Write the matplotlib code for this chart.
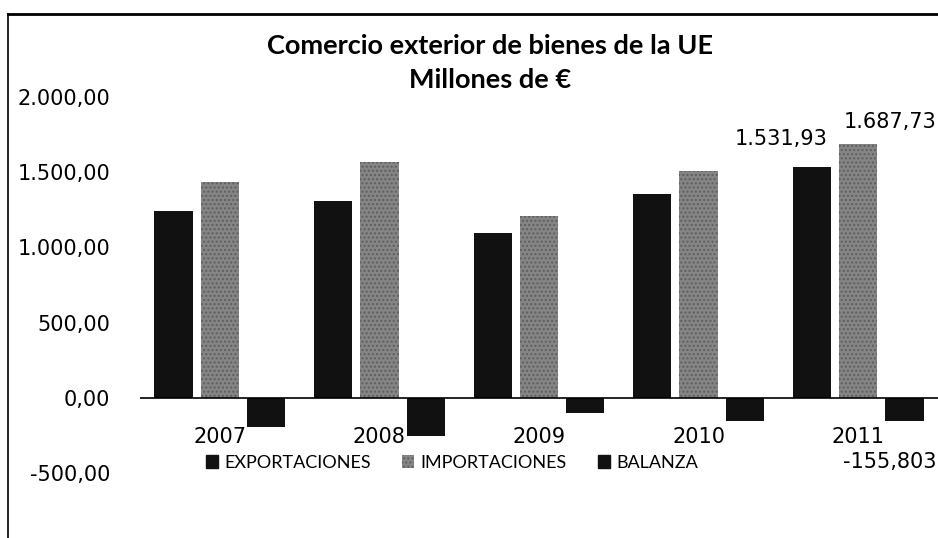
import matplotlib
matplotlib.use("Agg")
import matplotlib.pyplot as plt
from matplotlib.lines import Line2D
import matplotlib.patches as mpatches
import numpy as np

years = ["2007", "2008", "2009", "2010", "2011"]
exportaciones = [1240, 1310, 1094, 1354, 1531.93]
importaciones = [1434, 1566, 1206, 1510, 1687.73]
balanza = [-194, -255, -102, -156, -155.803]
y_ticks = [-500, 0, 500, 1000, 1500, 2000]
y_tick_labels = ["-500,00", "0,00", "500,00", "1.000,00", "1.500,00", "2.000,00"]

NUM_FONT = ["DejaVu Sans"]
TXT_FONT = ["Lato", "DejaVu Sans"]


def es_num(v, dec=2):
    # spanish number format: 1.531,93
    s = f"{v:,.{dec}f}"
    return s.replace(",", "X").replace(".", ",").replace("X", ".")


W, H = 938, 538
fig = plt.figure(figsize=(W / 100, H / 100), dpi=100)
ax = fig.add_axes([140 / W, 1 - 473 / H, 1 - 140 / W, (473 - 97) / H])

x = np.arange(len(years))
off = 0.29
bw = 0.24
colors = {"exp": "#111111", "imp": "#858585", "bal": "#111111"}

ax.bar(x - off, exportaciones, bw, color=colors["exp"], label="EXPORTACIONES")
ax.bar(x, importaciones, bw, facecolor=colors["imp"], label="IMPORTACIONES",
       hatch="....", edgecolor="#5e5e5e", linewidth=0)
ax.bar(x + off, balanza, bw, color=colors["bal"], label="BALANZA")

ax.set_xlim(-0.5, len(years) - 0.5)
ax.set_ylim(-500, 2000)
ax.axhline(0, color="black", lw=1.2)

ax.set_yticks(y_ticks)
ax.set_yticklabels(y_tick_labels, fontsize=15, family=NUM_FONT)
ax.tick_params(axis="y", length=0, pad=21.5)
ax.set_xticks([])

# year labels sit just under the zero line
for xi, yr in zip(x, years):
    ax.text(xi, 0.0957, yr, transform=ax.get_xaxis_transform(), ha="center", va="center",
            fontsize=15, family=NUM_FONT)

for s in ax.spines.values():
    s.set_visible(False)

# data labels for 2011
ax.annotate(es_num(exportaciones[-1]), (x[-1] - off, exportaciones[-1]), xytext=(-31, 28),
            textcoords="offset pixels", ha="center", va="center", fontsize=15, family=NUM_FONT)
ax.annotate(es_num(importaciones[-1]), (x[-1], importaciones[-1]), xytext=(32, 22),
            textcoords="offset pixels", ha="center", va="center", fontsize=15, family=NUM_FONT,
            annotation_clip=False)
ax.annotate(es_num(balanza[-1], 3), (x[-1] + off, 0), xytext=(-15, -64),
            textcoords="offset pixels", ha="center", va="center", fontsize=15, family=NUM_FONT,
            annotation_clip=False)

fig.text(490 / W, 1 - 46 / H, "Comercio exterior de bienes de la UE",
         ha="center", va="center", fontsize=19.5, fontweight="bold", family=TXT_FONT)
fig.text(490 / W, 1 - 80 / H, "Millones de €",
         ha="center", va="center", fontsize=19.5, fontweight="bold", family=TXT_FONT)

handles = [
    mpatches.Patch(color=colors["exp"], label="EXPORTACIONES"),
    mpatches.Patch(facecolor=colors["imp"], hatch="....", edgecolor="#5e5e5e", linewidth=0,
                   label="IMPORTACIONES"),
    mpatches.Patch(color=colors["bal"], label="BALANZA"),
]
fig.legend(handles=handles, loc="center", bbox_to_anchor=(452 / W, 1 - 463 / H), ncol=3,
           frameon=False, prop={"family": TXT_FONT, "size": 13}, handlelength=0.7,
           handleheight=0.75, handletextpad=0.35, columnspacing=1.7)

# scanned frame
fig.add_artist(Line2D([8 / W, 1], [1 - 14 / H, 1 - 14 / H], color="black", lw=2))
fig.add_artist(Line2D([8 / W, 8 / W], [0, 1 - 14 / H], color="black", lw=1.2))

fig.savefig("out.png", dpi=100)
